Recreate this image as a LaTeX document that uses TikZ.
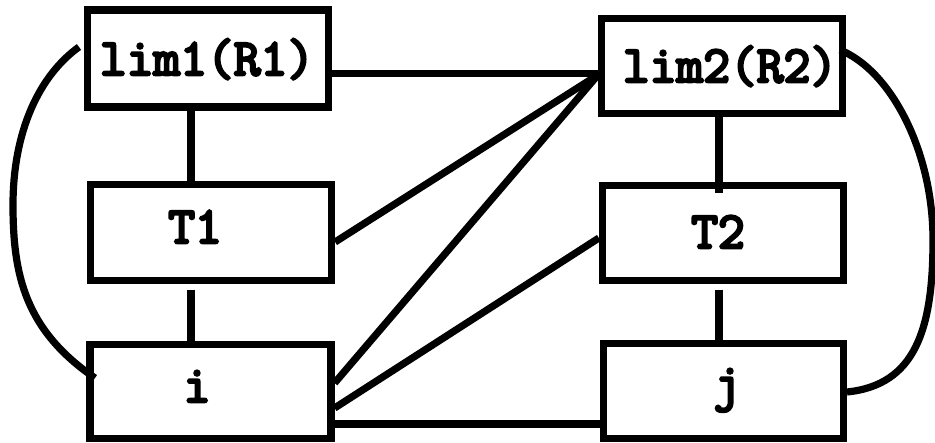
\documentclass[tikz,border=0pt]{standalone}
\usepackage{fontspec}
\newfontfamily\labfont[FakeBold=5]{Latin Modern Mono}
\begin{document}
\begin{tikzpicture}[x=1pt,y=-1pt,
  box/.style={rectangle,draw,line width=7.2pt,minimum width=241pt,minimum height=96pt,inner sep=0pt},
  lbl/.style={font=\labfont\fontsize{52}{52}\selectfont,inner sep=0pt,anchor=base},
  conn/.style={line width=7.2pt}]
\useasboundingbox (0,0) rectangle (935,443);
% boxes
\node[box,minimum height=97pt] (lim1) at (208,58.5) {};
\node[box] (T1) at (211,232.5) {};
\node[box,minimum height=94pt] (i) at (210.5,391.5) {};
\node[box,minimum height=95pt] (lim2) at (722,66) {};
\node[box,minimum height=95pt] (T2) at (723,233) {};
\node[box,minimum height=95pt,minimum width=240pt] (j) at (723.5,391) {};
% labels
\node[lbl] (tlim1) at (207,75) {lim1(R1)};
\node[lbl] (tT1) at (195,243) {T1};
\node[lbl] (ti) at (197,402) {i};
\node[lbl] (tlim2) at (730,82) {lim2(R2)};
\node[lbl] (tT2) at (718,248) {T2};
\node[lbl] (tj) at (727,400) {j};
% vertical connectors
\draw[conn] ([xshift=-17pt]lim1.south) -- ([xshift=-20pt]T1.north);
\draw[conn] ([xshift=-20pt,yshift=-5.5pt]T1.south) -- ([xshift=-19.5pt]i.north);
\draw[conn] ([xshift=-3pt]lim2.south) -- ([xshift=-4pt,yshift=-11.5pt]T2.north);
\draw[conn] ([xshift=-4pt,yshift=-5.5pt]T2.south) -- ([xshift=-4.5pt]j.north);
% cross connectors
\draw[conn] ([yshift=-15pt]lim1.east) coordinate (h1) -- (h1 -| lim2.west);
\coordinate (hub) at ([yshift=-9pt]lim2.west);
\draw[conn] ([yshift=-9.5pt]T1.east) -- (hub);
\draw[conn] ([yshift=8.5pt]i.east) -- (hub);
\draw[conn] ([yshift=-16.5pt]i.east) -- ([yshift=-5pt]T2.west);
\draw[conn] ([yshift=-32.5pt]i.east) coordinate (h2) -- (h2 -| j.west);
% curves
\coordinate (ls) at (79,47);
\coordinate (lm) at (13,205);
\coordinate (le) at (95,378);
\draw[conn] (ls) .. controls (40,75) and (13,130) .. (lm)
               .. controls (13,275) and (25,330) .. (le);
\coordinate (rs) at (840,50);
\coordinate (rm) at (933,240);
\coordinate (re) at (847,392);
\draw[conn] (rs) .. controls (890,70) and (933,150) .. (rm)
               .. controls (933,330) and (915,385) .. (re);
\end{tikzpicture}
\end{document}
